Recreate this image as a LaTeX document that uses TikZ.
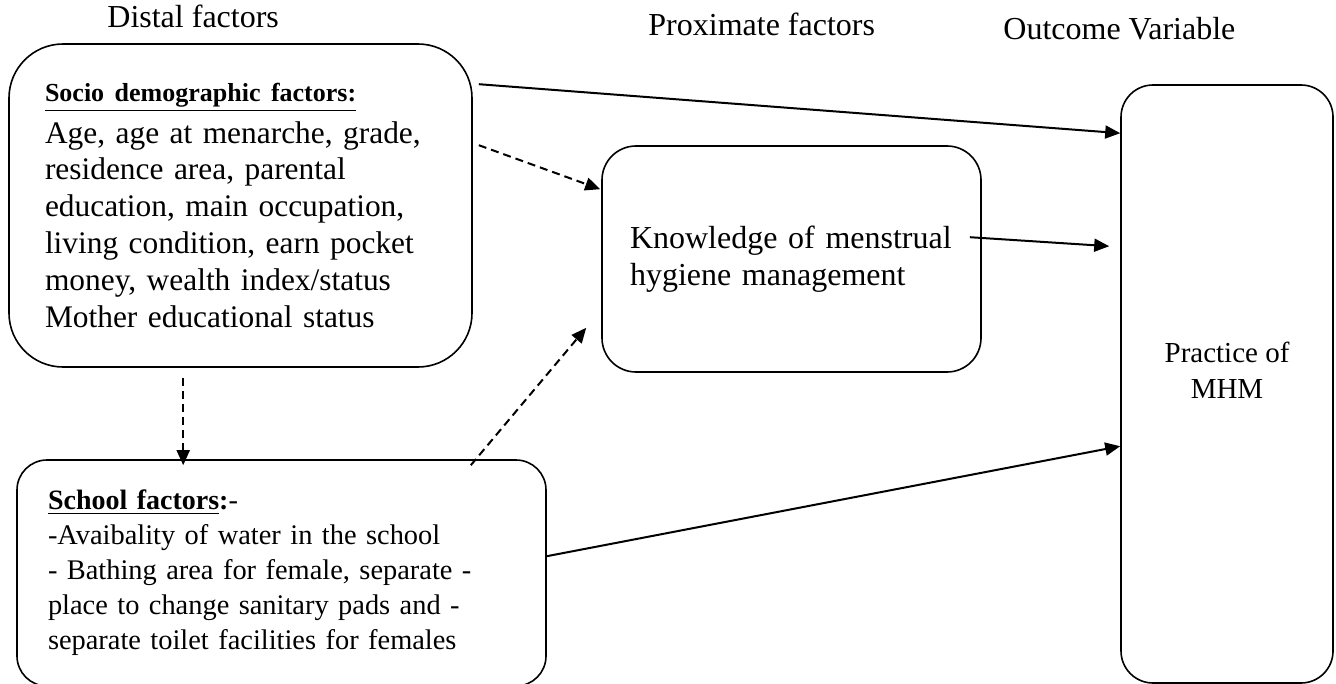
\documentclass[tikz,border=0pt]{standalone}
\usepackage{fontspec}
\setmainfont{Liberation Serif}
\usetikzlibrary{arrows.meta,calc}

\tikzstyle{box} = [draw, line width=0.8pt, inner ysep=0pt, align=left]
\tikzstyle{heading} = [anchor=base west, inner sep=0pt, font=\fontsize{16}{18}\selectfont]
\tikzstyle{arr} = [-{Triangle[length=7.5pt,width=6.5pt]}, line width=1pt]
\tikzstyle{darr} = [arr, dash pattern=on 4pt off 2.5pt]

\begin{document}
\begin{tikzpicture}[x=0.5pt,y=-0.5pt]
\useasboundingbox (0,0) rectangle (1336,684);

% column headings
\node[heading] (distal) at (107,28) {Distal factors};
\node[heading] (proximate) at (648,36) {Proximate factors};
\node[heading] (outcome) at (1003,40) {Outcome Variable};

% boxes
\node[box, rounded corners=27pt, minimum width=231.5pt, minimum height=161.5pt,
    text width=195.5pt, inner xsep=18pt, font=\fontsize{15.7}{18.4}\selectfont]
    (socio) at (240.5,205.5) {{\fontsize{13}{15}\selectfont\bfseries\underline{Socio demographic factors:}}\\[2.3pt]
    Age, age at menarche, grade,\\
    residence area, parental\\
    education, main occupation,\\
    living condition, earn pocket\\
    money, wealth index/status\\
    Mother educational status};
\node[box, rounded corners=15pt, minimum width=264.5pt, minimum height=113pt,
    text width=233.5pt, inner xsep=15.5pt, font=\fontsize{14.2}{17.5}\selectfont]
    (school) at (281.5,573) {{\fontsize{14}{15}\selectfont\bfseries\underline{School factors}:}-\\
    -Avaibality of water in the school\\
    - Bathing area for female, separate -\\
    place to change sanitary pads and -\\
    separate toilet facilities for females};
\node[box, rounded corners=17pt, minimum width=189.5pt, minimum height=113pt,
    text width=161.5pt, inner xsep=14pt, font=\fontsize{16}{18.5}\selectfont]
    (know) at (791.5,259) {Knowledge of menstrual\\
    hygiene management};
\node[box, rounded corners=16pt, minimum width=106pt, minimum height=299pt,
    label={[align=center, yshift=7pt, font=\fontsize{14.5}{18}\selectfont]center:Practice of\\MHM}]
    (practice) at (1227,384) {};

% paths
\draw[arr] ($(socio.north east)+(6,41)$) -- ($(practice.north west)+(0,49)$);
\draw[darr] ($(socio.north east)+(6,102)$) -- ($(know.north west)+(-1,44)$);
\draw[arr] ($(know.north east)+(-12,92)$) -- ($(practice.north west)+(-11,162)$);
\draw[darr] ($(socio.south west)+(175,10)$) -- ($(school.north west)+(167,6)$);
\draw[darr] ($(school.north east)+(-76,6)$) -- ($(know.south west)+(-15,-45)$);
\draw[arr] ($(school.north east)+(0,97)$) -- ($(practice.north west)+(0,362)$);
\end{tikzpicture}
\end{document}
